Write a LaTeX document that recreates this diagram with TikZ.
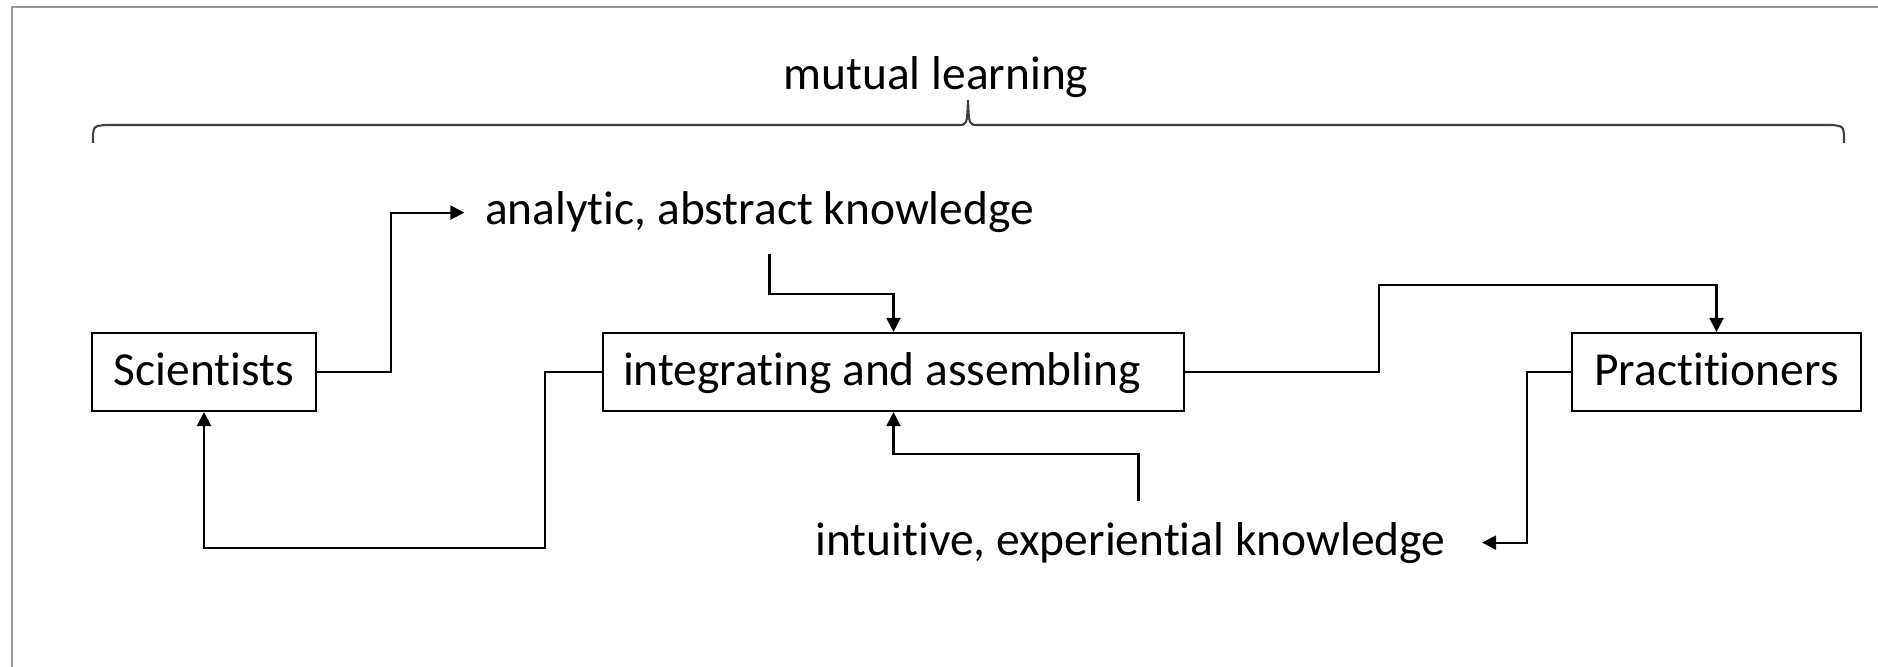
\documentclass[tikz,border=0pt]{standalone}
\usepackage{fontspec}
\setmainfont{Carlito}[Ligatures=NoCommon]
\usetikzlibrary{arrows.meta}

\begin{document}
\begin{tikzpicture}[
    font=\fontsize{13.5}{16}\selectfont,
    box/.style={draw,line width=0.6pt,minimum height=0.78cm,inner xsep=0.2cm,
      inner ysep=0.1cm,text height=0.4cm,text depth=0.12cm},
    txt/.style={inner sep=0.2cm,anchor=base},
    flow/.style={line width=0.6pt,-{Triangle[length=4pt,width=4pt]}},
  ]
    \useasboundingbox (0,0) rectangle (18.78,-6.67);
    \draw[black!40,line width=0.8pt] (0.12,-6.67) -- (0.12,-0.07) -- (18.78,-0.07);
    \node (sci) at (2.04,-3.72) [box,minimum width=2.24cm] {Scientists};
    \node (int) at (8.935,-3.72) [box,text width=5.41cm,align=flush left] {integrating and assembling};
    \node (pra) at (17.165,-3.72) [box,minimum width=2.89cm] {Practitioners};
    \node (ana) at (7.595,-2.25) [txt] {analytic, abstract knowledge};
    \node (exp) at (11.305,-5.55) [txt] {intuitive, experiential knowledge};
    \node (mut) at (9.36,-0.90) [anchor=base] {mutual learning};
    % brace under the heading
    \coordinate (bl) at (0.93,-1.43);
    \coordinate (bt) at (9.68,-1.0);
    \coordinate (br) at (18.44,-1.43);
    \draw[black!75,line width=0.6pt] (bl) .. controls (0.93,-1.26) .. (1.06,-1.25)
      -- (9.58,-1.25) .. controls (9.67,-1.25) .. (bt)
      .. controls (9.69,-1.25) .. (9.78,-1.25) -- (18.31,-1.25)
      .. controls (18.44,-1.26) .. (br);
    \draw[flow] (sci.east) -- ++(0.74,0) |- (ana.west);
    \draw[flow] ([xshift=1mm]ana.south) -- ++(0,-0.4) -| (int.north);
    \draw[flow] (int.west) -- ++(-0.57,0) -- ++(0,-1.76) -| (sci.south);
    \draw[flow] (int.east) -- ++(1.94,0) -- ++(0,0.87) -| (pra.north);
    \draw[flow] (pra.west) -- ++(-0.44,0) |- ([xshift=1.6mm]exp.east);
    \draw[flow] ([xshift=0.8mm]exp.north) -- ++(0,0.47) -| (int.south);
\end{tikzpicture}
\end{document}
